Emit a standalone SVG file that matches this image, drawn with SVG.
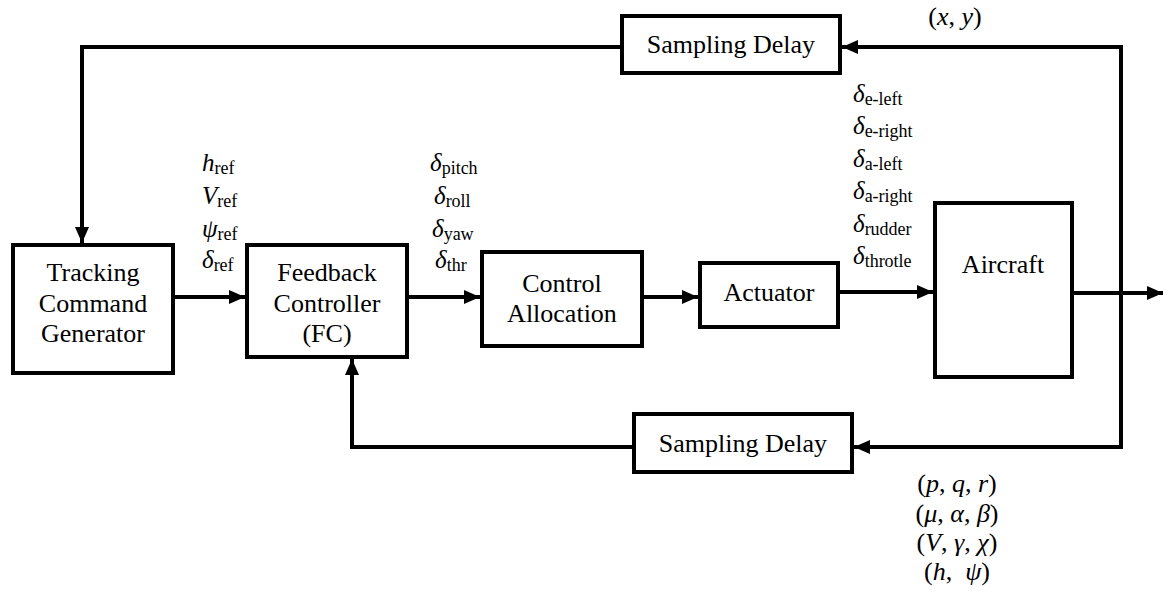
<svg xmlns="http://www.w3.org/2000/svg" width="1163" height="597" viewBox="0 0 1163 597">
<style>
.box{fill:#fff;stroke:#000;stroke-width:4}
.ln{fill:none;stroke:#000;stroke-width:4}
text{font-family:'Liberation Serif','Times New Roman',Times,serif;fill:#000}
.t{font-size:26px;text-anchor:middle}
.m{font-size:25px}
.o{font-size:26px;text-anchor:middle}
.i{font-style:italic}
.s{font-size:18px;font-style:normal}
</style>
<defs>
<marker id="ah" markerUnits="userSpaceOnUse" markerWidth="16" markerHeight="14" refX="16" refY="7" orient="auto">
<path d="M0,0 L16,7 L0,14 z" fill="#000"/>
</marker>
</defs>
<rect width="1163" height="597" fill="#fff"/>
<g id="connectors">
<path class="ln" d="M173,297 H245" marker-end="url(#ah)"/>
<path class="ln" d="M407,297 H480" marker-end="url(#ah)"/>
<path class="ln" d="M642,297 H698" marker-end="url(#ah)"/>
<path class="ln" d="M838,292 H933" marker-end="url(#ah)"/>
<path class="ln" d="M1072,293 H1163" marker-end="url(#ah)"/>
<path class="ln" d="M1121,293 V47 H842" marker-end="url(#ah)"/>
<path class="ln" d="M1121,291 V447 H854" marker-end="url(#ah)"/>
<path class="ln" d="M622,47 H82 V243" marker-end="url(#ah)"/>
<path class="ln" d="M634,447 H352 V359" marker-end="url(#ah)"/>
</g>
<g id="tcg">
<rect class="box" x="13" y="245" width="160" height="128"/>
<text class="t" x="93" y="281">Tracking</text>
<text class="t" x="93" y="312">Command</text>
<text class="t" x="93" y="342">Generator</text>
</g>
<g id="fc">
<rect class="box" x="247" y="245" width="160" height="112"/>
<text class="t" x="327" y="281">Feedback</text>
<text class="t" x="327" y="312">Controller</text>
<text class="t" x="327" y="342">(FC)</text>
</g>
<g id="ca">
<rect class="box" x="482" y="252" width="160" height="94"/>
<text class="t" x="562" y="292">Control</text>
<text class="t" x="562" y="322">Allocation</text>
</g>
<g id="actuator">
<rect class="box" x="700" y="263" width="138" height="64"/>
<text class="t" x="769" y="301">Actuator</text>
</g>
<g id="aircraft">
<rect class="box" x="935" y="203" width="137" height="174"/>
<text class="t" x="1003" y="273">Aircraft</text>
</g>
<g id="sd-top">
<rect class="box" x="622" y="16" width="218" height="57"/>
<text class="t" x="731" y="53">Sampling Delay</text>
</g>
<g id="sd-bottom">
<rect class="box" x="634" y="414" width="218" height="58"/>
<text class="t" x="743" y="452">Sampling Delay</text>
</g>
<g id="labels-ref">
<text class="m" x="202" y="171"><tspan class="i">h</tspan><tspan class="s" dy="3">ref</tspan></text>
<text class="m" x="202" y="204"><tspan class="i">V</tspan><tspan class="s" dy="3">ref</tspan></text>
<text class="m" x="202" y="237"><tspan class="i">ψ</tspan><tspan class="s" dy="3">ref</tspan></text>
<text class="m" x="202" y="268"><tspan class="i">δ</tspan><tspan class="s" dy="3">ref</tspan></text>
</g>
<g id="labels-fc">
<text class="m" x="430" y="171"><tspan class="i">δ</tspan><tspan class="s" dy="3">pitch</tspan></text>
<text class="m" x="434" y="204"><tspan class="i">δ</tspan><tspan class="s" dy="3">roll</tspan></text>
<text class="m" x="432" y="237"><tspan class="i">δ</tspan><tspan class="s" dy="3">yaw</tspan></text>
<text class="m" x="435" y="268"><tspan class="i">δ</tspan><tspan class="s" dy="3">thr</tspan></text>
</g>
<g id="labels-act">
<text class="m" x="853" y="102"><tspan class="i">δ</tspan><tspan class="s" dy="3">e-left</tspan></text>
<text class="m" x="853" y="134"><tspan class="i">δ</tspan><tspan class="s" dy="3">e-right</tspan></text>
<text class="m" x="853" y="167"><tspan class="i">δ</tspan><tspan class="s" dy="3">a-left</tspan></text>
<text class="m" x="853" y="199"><tspan class="i">δ</tspan><tspan class="s" dy="3">a-right</tspan></text>
<text class="m" x="853" y="232"><tspan class="i">δ</tspan><tspan class="s" dy="3">rudder</tspan></text>
<text class="m" x="853" y="264"><tspan class="i">δ</tspan><tspan class="s" dy="3">throtle</tspan></text>
</g>
<g id="labels-out">
<text class="o" x="955" y="25">(<tspan class="i">x</tspan>, <tspan class="i">y</tspan>)</text>
<text class="o" x="957" y="492">(<tspan class="i">p</tspan>, <tspan class="i">q</tspan>, <tspan class="i">r</tspan>)</text>
<text class="o" x="957" y="522">(<tspan class="i">μ</tspan>, <tspan class="i">α</tspan>, <tspan class="i">β</tspan>)</text>
<text class="o" x="957" y="551">(<tspan class="i">V</tspan>, <tspan class="i">γ</tspan>, <tspan class="i">χ</tspan>)</text>
<text class="o" x="957" y="580">(<tspan class="i">h</tspan>,&#160; <tspan class="i">ψ</tspan>)</text>
</g>
</svg>
